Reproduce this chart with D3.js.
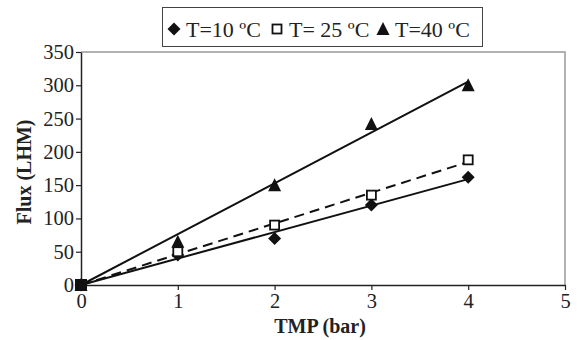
<!DOCTYPE html>
<html>
  <head>
    <meta charset="UTF-8">
    <script src="https://d3js.org/d3.v7.min.js"></script>
    <style>
      body { margin: 0; background: #fff; }
      svg text { font-family: "Liberation Serif", "Times New Roman", serif; fill: #222; }
    </style>
  </head>
  <body>
    <svg id="f1" width="579" height="340"></svg>
    <script>
    var tmp = [0, 1, 2, 3, 4];
    var flux10 = [0, 45, 70, 120, 162];
    var flux25 = [0, 50, 90, 135, 188];
    var flux40 = [0, 65, 150, 242, 300];
    var seriesNames = ["T=10 ºC", "T= 25 ºC", "T=40 ºC"];
    var xTicks = [0, 1, 2, 3, 4, 5];
    var yTicks = [0, 50, 100, 150, 200, 250, 300, 350];

    var svg = d3.select("#f1");
    var x = d3.scaleLinear().domain([0, 5]).range([81, 565]);
    var y = d3.scaleLinear().domain([0, 350]).range([285, 52]);

    // plot frame (grey top/right)
    svg.append("path")
      .attr("d", "M" + x(0) + "," + y(350) + "H" + x(5) + "V" + y(0))
      .attr("fill", "none").attr("stroke", "#999").attr("stroke-width", 1.5);

    var xAxis = svg.append("g").attr("transform", "translate(0," + y(0) + ")")
      .call(d3.axisBottom(x).tickValues(xTicks).tickSize(5).tickSizeOuter(0).tickFormat(d3.format("d")));
    var yAxis = svg.append("g").attr("transform", "translate(" + x(0) + ",0)")
      .call(d3.axisLeft(y).tickValues(yTicks).tickSize(5).tickSizeOuter(0));
    [xAxis, yAxis].forEach(function(a) {
      a.attr("font-family", null).attr("font-size", null);
      a.select(".domain").attr("stroke", "#222").attr("stroke-width", 1.5);
      a.selectAll(".tick line").attr("stroke", "#222").attr("stroke-width", 1.2);
      a.selectAll("text").style("font-size", "20.5px").attr("fill", "#222");
    });
    xAxis.selectAll("text").attr("y", 8).attr("dy", "0.71em");
    yAxis.selectAll("text").attr("x", -7);

    svg.append("text").attr("x", 320).attr("y", 333).attr("text-anchor", "middle")
      .style("font-size", "20px").style("font-weight", "bold").text("TMP (bar)");
    svg.append("text").attr("transform", "translate(31,172) rotate(-90)").attr("text-anchor", "middle")
      .style("font-size", "20px").style("font-weight", "bold").text("Flux (LHM)");

    // linear trendlines through origin (least squares on the data)
    function slope(vals) {
      var sxy = d3.sum(tmp, function(t, i) { return t * vals[i]; });
      var sxx = d3.sum(tmp, function(t) { return t * t; });
      return sxy / sxx;
    }
    var series = [
      { name: seriesNames[0], vals: flux10, dash: null, sym: "diamond" },
      { name: seriesNames[1], vals: flux25, dash: "10,6", sym: "square" },
      { name: seriesNames[2], vals: flux40, dash: null, sym: "triangle" }
    ];
    series.forEach(function(s) {
      var k = slope(s.vals);
      svg.append("line")
        .attr("x1", x(0)).attr("y1", y(0))
        .attr("x2", x(4)).attr("y2", y(4 * k))
        .attr("stroke", "#111").attr("stroke-width", 2)
        .attr("stroke-dasharray", s.dash);
    });

    function drawSym(g, sym, cx, cy) {
      if (sym == "diamond") {
        g.append("path").attr("d", "M0,-6.5L6.5,0L0,6.5L-6.5,0Z")
          .attr("transform", "translate(" + cx + "," + cy + ")").attr("fill", "#111");
      } else if (sym == "square") {
        g.append("rect").attr("x", cx - 4.5).attr("y", cy - 4.5).attr("width", 9).attr("height", 9)
          .attr("fill", "#fff").attr("stroke", "#111").attr("stroke-width", 1.8);
      } else {
        g.append("path").attr("d", "M0,-7L6.5,6L-6.5,6Z")
          .attr("transform", "translate(" + cx + "," + cy + ")").attr("fill", "#111");
      }
    }

    series.forEach(function(s) {
      var g = svg.append("g");
      tmp.forEach(function(t, i) { drawSym(g, s.sym, x(t), y(s.vals[i])); });
    });
    // markers stacked at origin look like a filled block
    svg.append("rect").attr("x", x(0) - 6).attr("y", y(0) - 6).attr("width", 12).attr("height", 12).attr("fill", "#111");

    // legend
    svg.append("rect").attr("x", 162.5).attr("y", 7.5).attr("width", 320).attr("height", 39)
      .attr("fill", "#fff").attr("stroke", "#444").attr("stroke-width", 1);
    var legX = [174, 277, 383];
    series.forEach(function(s, i) {
      drawSym(svg, s.sym, legX[i], 29);
      svg.append("text").attr("x", legX[i] + 12).attr("y", 37)
        .style("font-size", "22px").text(s.name);
    });
    </script>
  </body>
</html>
